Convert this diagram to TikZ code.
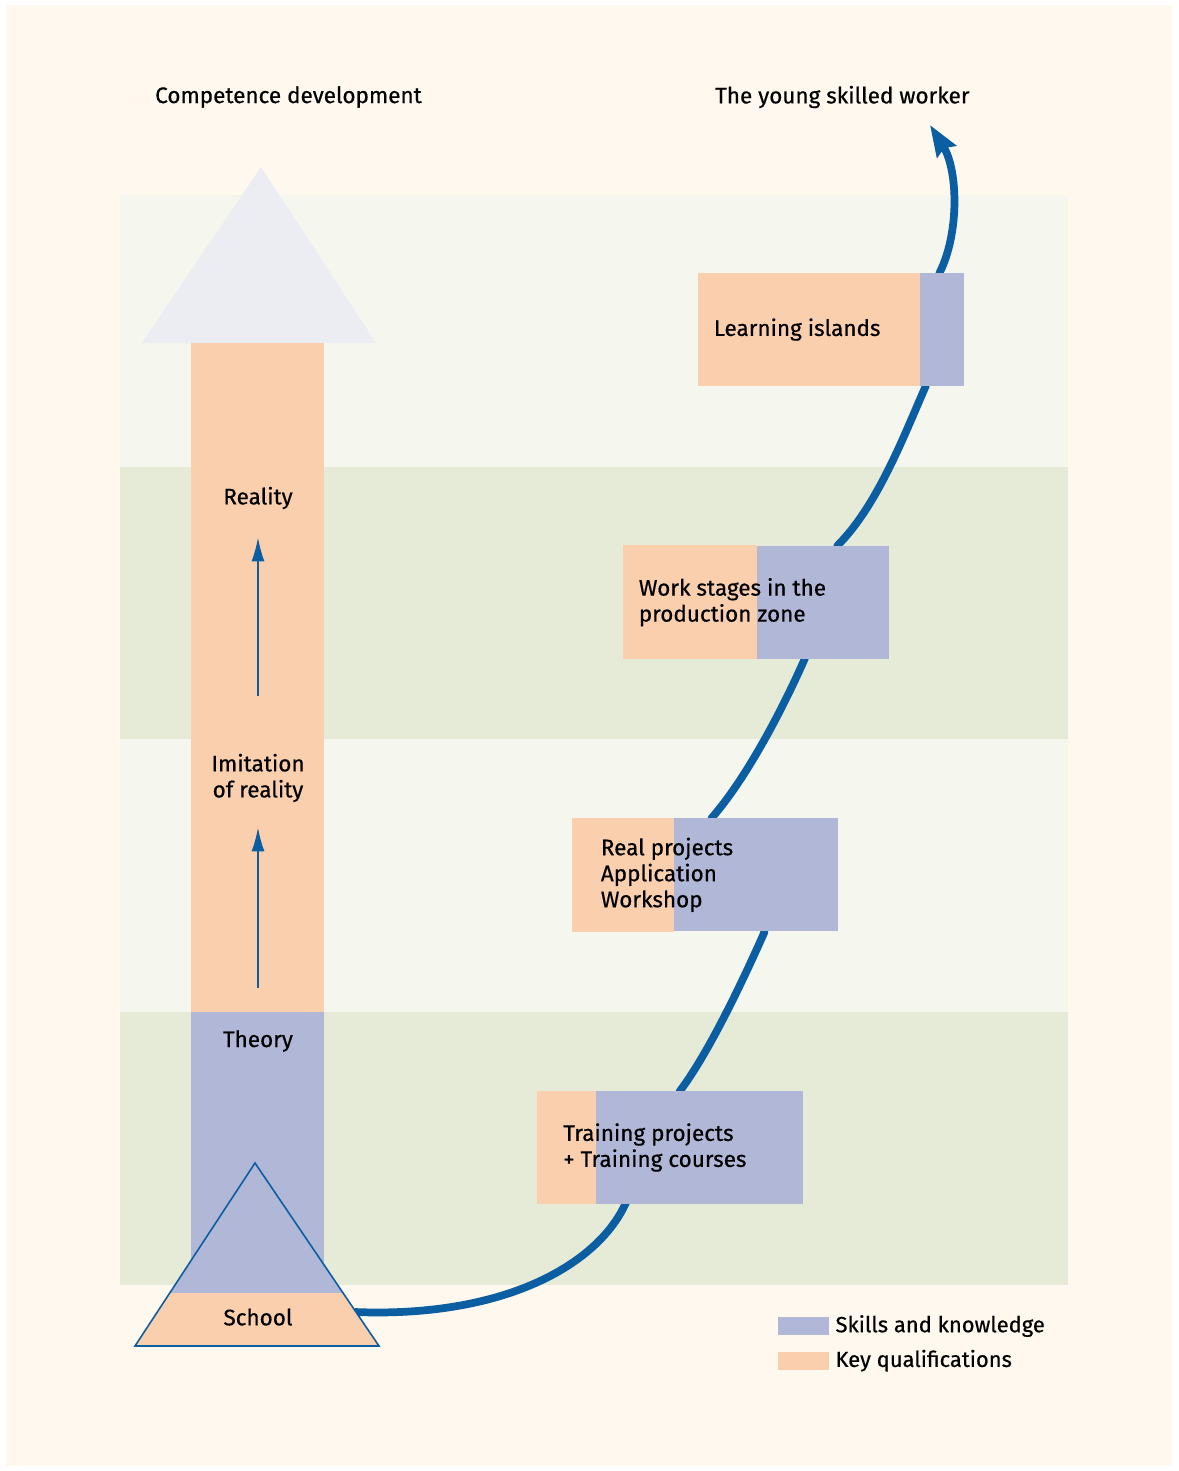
\documentclass[tikz,border=0pt]{standalone}
\usepackage{fontspec}
\setmainfont{Fira Sans}[FakeBold=0.5]
\usetikzlibrary{arrows.meta,positioning,calc}
\pgfdeclarelayer{background}
\pgfsetlayers{background,main}
\definecolor{paper}{HTML}{FEF8EE}
\definecolor{bandlight}{HTML}{F5F6EE}
\definecolor{bandgreen}{HTML}{E6EBD8}
\definecolor{keyq}{HTML}{FACFAE}
\definecolor{skills}{HTML}{B0B7D7}
\definecolor{peak}{HTML}{ECEDF3}
\definecolor{route}{HTML}{0B5EA1}
\tikzstyle{stage} = [rectangle, fill=skills, minimum width=5.32cm, minimum height=2.26cm, inner sep=0pt]
\tikzstyle{stagetext} = [anchor=west, align=left, font=\fontsize{12.8}{14.8}\selectfont]
\tikzstyle{level} = [align=center, font=\fontsize{12.8}{14.8}\selectfont]
\tikzstyle{heading} = [anchor=west, font=\fontsize{12.8}{14.8}\selectfont]
\tikzstyle{swatch} = [rectangle, minimum width=1.02cm, minimum height=0.36cm, inner sep=0pt]
\tikzstyle{legendtext} = [anchor=west, font=\fontsize{12.5}{14.8}\selectfont]
\tikzstyle{connector} = [line width=1.1pt, draw=route, -{Latex[length=0.48cm,width=0.26cm]}]
\tikzstyle{pathway} = [line width=4.4pt, draw=route, line join=round, -{Stealth[length=0.62cm,width=0.44cm,inset=0.08cm]}]

\begin{document}
\begin{tikzpicture}[x=0.02cm, y=-0.02cm]
        % page and bands
        \begin{pgfonlayer}{background}
        \fill[white] (0,0) rectangle (1178,1471);
        \fill[paper] (6,5) rectangle (1172,1466);
        \fill[bandlight] (120,195) rectangle (1068,467);
        \fill[bandgreen] (120,467) rectangle (1068,739);
        \fill[bandlight] (120,739) rectangle (1068,1012);
        \fill[bandgreen] (120,1012) rectangle (1068,1285);
        \end{pgfonlayer}
        % competence column
        \fill[peak] (142,343) -- (261,167) -- (376,343) -- cycle;
        \fill[keyq] (191,343) rectangle (324,1012);
        \fill[skills] (191,1012) rectangle (324,1293);
        \fill[skills] (135,1346) -- (255,1163) -- (379,1346) -- cycle;
        \begin{scope}
            \clip (135,1346) -- (255,1163) -- (379,1346) -- cycle;
            \fill[keyq] (100,1293) rectangle (400,1350);
        \end{scope}
        \draw[route, line width=0.9pt] (135,1346) -- (255,1163) -- (379,1346) -- cycle;
        \node (reality) [level] at (258,498) {Reality};
        \node (imitation) [level] at (258,778) {Imitation\\of reality};
        \node (theory) [level] at (258,1041) {Theory};
        \node (school) [level] at (258,1317) {School};
        \coordinate (school-edge) at (355,1312);
        \draw [connector, shorten <=0.72cm, shorten >=0.38cm] (theory) -- (imitation);
        \draw [connector, shorten <=1.04cm, shorten >=0.44cm] (imitation) -- (reality);
        % stages of training
        \node (train) [stage] at (670.5,1147.5) {};
        \node (real) [stage, above=3.18cm of train, xshift=0.69cm] {};
        \node (work) [stage, above=3.18cm of real, xshift=1.02cm] {};
        \node (learn) [stage, above=3.18cm of work, xshift=1.5cm] {};
        \fill[keyq] (train.south west) rectangle ([xshift=1.18cm]train.north west);
        \fill[keyq] (real.south west) rectangle ([xshift=2.04cm]real.north west);
        \fill[keyq] (work.south west) rectangle ([xshift=2.68cm]work.north west);
        \fill[keyq] (learn.south west) rectangle ([xshift=4.44cm]learn.north west);
        \node (train-text) [stagetext] at ([xshift=0.4cm]train.west) {Training projects\\+ Training courses};
        \node (real-text) [stagetext] at ([xshift=0.46cm]real.west) {Real projects\\Application\\Workshop};
        \node (work-text) [stagetext] at ([xshift=0.2cm]work.west) {Work stages in the\\production zone};
        \node (learn-text) [stagetext] at ([xshift=0.2cm]learn.west) {Learning islands};
        \coordinate (worker-tip) at (930,125);
        \begin{pgfonlayer}{background}
        \draw [pathway] (school-edge) .. controls +(150,6) and +(-28,60) .. ([xshift=1.76cm]train.south west)
            -- ([xshift=2.86cm]train.north west) .. controls +(30,-40) and +(-20,45) .. ([xshift=3.86cm]real.south west)
            -- ([xshift=2.80cm]real.north west) .. controls +(35,-40) and +(-22,50) .. ([xshift=3.64cm]work.south west)
            -- ([xshift=4.30cm]work.north west) .. controls +(40,-40) and +(-22,50) .. ([xshift=4.56cm]learn.south west)
            -- ([xshift=4.84cm]learn.north west) .. controls +(20,-40) and +(28,45) .. (worker-tip);
        \end{pgfonlayer}
        % headings and legend
        \node (competence) [heading] at (149,97) {Competence development};
        \node (worker) [heading] at (709,97) {The young skilled worker};
        \node (skills-key) [swatch, fill=skills] at (803.5,1326) {};
        \node (keyq-key) [swatch, fill=keyq, below=0.32cm of skills-key] {};
        \node (skills-label) [legendtext, right=0pt of skills-key] {Skills and knowledge};
        \node (keyq-label) [legendtext, right=0pt of keyq-key] {Key qualifications};
\end{tikzpicture}
\end{document}
